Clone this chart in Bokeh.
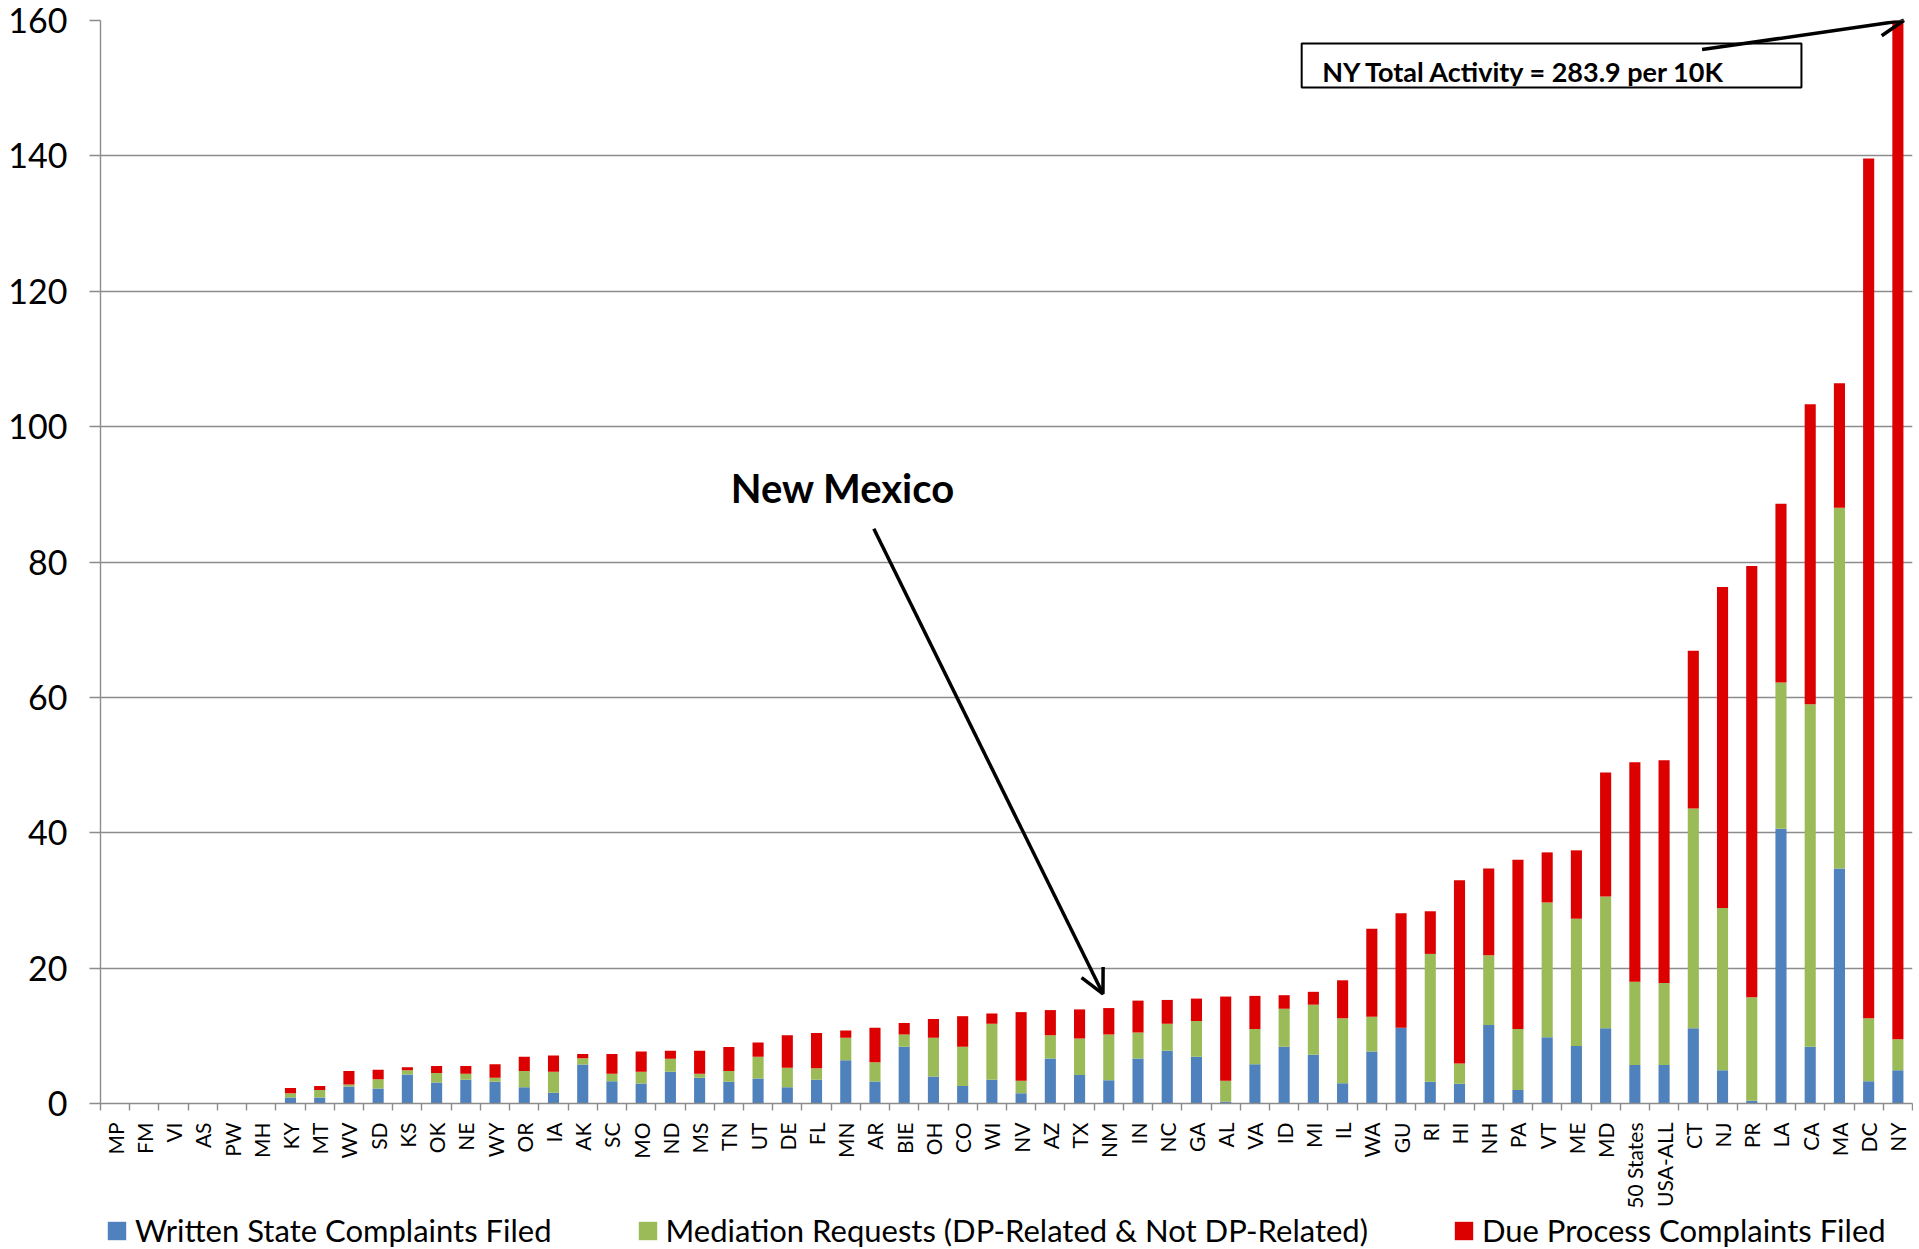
import math
from bokeh.plotting import figure
from bokeh.layouts import column
from bokeh.models import (ColumnDataSource, FixedTicker, Range1d, Label, Arrow,
                          OpenHead, Legend, LegendItem, BoxAnnotation)
from bokeh.embed import file_html
from bokeh.resources import INLINE

states = ["MP", "FM", "VI", "AS", "PW", "MH", "KY", "MT", "WV", "SD", "KS", "OK", "NE",
          "WY", "OR", "IA", "AK", "SC", "MO", "ND", "MS", "TN", "UT", "DE", "FL", "MN",
          "AR", "BIE", "OH", "CO", "WI", "NV", "AZ", "TX", "NM", "IN", "NC", "GA", "AL",
          "VA", "ID", "MI", "IL", "WA", "GU", "RI", "HI", "NH", "PA", "VT", "ME", "MD",
          "50 States", "USA-ALL", "CT", "NJ", "PR", "LA", "CA", "MA", "DC", "NY"]

written = [0, 0, 0, 0, 0, 0, 0.9, 0.9, 2.5, 2.2, 4.3, 3.1, 3.5,
           3.2, 2.4, 1.6, 5.75, 3.3, 2.95, 4.7, 3.8, 3.2, 3.7, 2.4, 3.5, 6.4,
           3.25, 8.4, 4.0, 2.6, 3.5, 1.5, 6.65, 4.2, 3.45, 6.65, 7.8, 6.9, 0.25,
           5.8, 8.4, 7.2, 3.0, 7.7, 11.2, 3.2, 2.9, 11.6, 2.0, 9.8, 8.5, 11.1,
           5.7, 5.7, 11.1, 4.9, 0.4, 40.6, 8.4, 34.7, 3.3, 4.9]

mediation = [0, 0, 0, 0, 0, 0, 0.6, 1.1, 0.3, 1.4, 0.6, 1.4, 0.9,
             0.6, 2.4, 3.1, 0.95, 1.1, 1.75, 1.9, 0.6, 1.6, 3.2, 2.9, 1.7, 3.3,
             2.85, 1.8, 5.7, 5.8, 8.3, 1.85, 3.45, 5.4, 6.75, 3.85, 4.0, 5.3, 3.1,
             5.2, 5.6, 7.4, 9.6, 5.1, 0.0, 18.9, 3.0, 10.3, 9.0, 19.9, 18.8, 19.5,
             12.3, 12.1, 32.5, 24.0, 15.3, 21.6, 50.6, 53.3, 9.3, 4.6]

due_process = [0, 0, 0, 0, 0, 0, 0.8, 0.6, 2.0, 1.4, 0.45, 1.05, 1.15,
               2.0, 2.1, 2.4, 0.6, 2.9, 3.0, 1.2, 3.4, 3.55, 2.1, 4.8, 5.2, 1.1,
               5.1, 1.7, 2.8, 4.5, 1.5, 10.15, 3.7, 4.3, 3.9, 4.7, 3.5, 3.3, 12.45,
               4.9, 2.0, 1.9, 5.6, 13.0, 16.9, 6.3, 27.1, 12.8, 25.0, 7.4, 10.1, 18.3,
               32.4, 32.9, 23.3, 47.4, 63.7, 26.4, 44.3, 18.4, 127.0, 274.4]

series_names = ["Written State Complaints Filed",
                "Mediation Requests (DP-Related & Not DP-Related)",
                "Due Process Complaints Filed"]
colors = ["#4F81BD", "#9BBB59", "#DC0000"]
y_ticks = [0, 20, 40, 60, 80, 100, 120, 140, 160]

FONT = "Lato"
GRAY = "#8C8C8C"

centers = [i + 0.5 for i in range(len(states))]
source = ColumnDataSource(dict(x=centers, written=written, mediation=mediation,
                               due=due_process, state=states))

p = figure(frame_width=1812, frame_height=1083,
           x_range=Range1d(0, len(states)), y_range=Range1d(0, 160),
           output_backend="svg", toolbar_location=None,
           min_border_left=100, min_border_right=1, min_border_top=20,
           min_border_bottom=0)
p.outline_line_color = None
p.background_fill_color = "white"

renderers = p.vbar_stack(["written", "mediation", "due"], x="x", width=0.38,
                         color=colors, source=source, line_color=None)

# axes
p.xgrid.visible = False
p.ygrid.grid_line_color = GRAY
p.ygrid.grid_line_width = 1.4
p.yaxis.ticker = FixedTicker(ticks=y_ticks)
p.yaxis.axis_line_color = GRAY
p.yaxis.axis_line_width = 1.4
p.yaxis.major_tick_line_color = GRAY
p.yaxis.major_tick_line_width = 1.4
p.yaxis.major_tick_out = 11
p.yaxis.major_tick_in = 0
p.yaxis.minor_tick_line_color = None
p.yaxis.major_label_text_font = FONT
p.yaxis.major_label_text_font_size = "34px"
p.yaxis.major_label_text_color = "black"
p.yaxis.major_label_standoff = 22

p.xaxis.ticker = FixedTicker(ticks=centers, minor_ticks=list(range(len(states) + 1)))
p.xaxis.major_label_overrides = {c: s for c, s in zip(centers, states)}
p.xaxis.major_label_orientation = math.pi / 2
p.xaxis.axis_line_color = GRAY
p.xaxis.axis_line_width = 1.4
p.xaxis.major_tick_line_color = None
p.xaxis.major_tick_out = 0
p.xaxis.major_tick_in = 0
p.xaxis.minor_tick_line_color = GRAY
p.xaxis.minor_tick_line_width = 1.4
p.xaxis.minor_tick_out = 7
p.xaxis.minor_tick_in = 0
p.xaxis.major_label_text_font = FONT
p.xaxis.major_label_text_font_size = "21px"
p.xaxis.major_label_text_color = "black"
p.xaxis.major_label_standoff = 12

# annotations
p.add_layout(Label(x=25.4, y=91.0, text="New Mexico", text_font=FONT,
                   text_font_style="bold", text_font_size="40px", text_align="center",
                   text_baseline="alphabetic", text_color="black"))
p.add_layout(Arrow(x_start=26.46, y_start=84.9, x_end=34.3, y_end=16.2,
                   line_width=3.5, line_color="black",
                   end=OpenHead(size=24, line_width=3.5, line_color="black")))

p.add_layout(BoxAnnotation(left=41.1, right=58.2, bottom=150.1, top=156.6,
                           fill_color="white", fill_alpha=1.0,
                           line_color="black", line_width=2, line_alpha=1.0))
p.add_layout(Label(x=41.8, y=152.4, text="NY Total Activity = 283.9 per 10K",
                   text_font=FONT, text_font_style="bold", text_font_size="27px",
                   text_baseline="middle", text_color="black"))
p.add_layout(Arrow(x_start=54.8, y_start=155.7, x_end=61.7, y_end=160.0,
                   line_width=3.5, line_color="black",
                   end=OpenHead(size=24, line_width=3.5, line_color="black")))

# legend in a strip below the chart (same stacked series, drawn outside its visible range)
leg = figure(width=1913, height=39, output_backend="svg", toolbar_location=None,
             x_range=Range1d(0, len(states)), y_range=Range1d(1000, 1001),
             min_border=0, x_axis_type=None, y_axis_type=None)
leg.outline_line_color = None
leg_renderers = leg.vbar_stack(["written", "mediation", "due"], x="x", width=0.38,
                               color=colors, source=source, line_color=None)
legend = Legend(items=[LegendItem(label=n, renderers=[r]) for n, r in zip(series_names, leg_renderers)],
                orientation="horizontal", location=(5, 1),
                label_text_font=FONT, label_text_font_size="31px",
                label_text_color="black", glyph_width=23, glyph_height=23,
                label_standoff=7, spacing=84, padding=0, margin=0,
                border_line_color=None, background_fill_alpha=0)
leg.add_layout(legend, "center")

layout = column(p, leg, spacing=0)
open("out.html", "w").write(file_html(layout, INLINE))
